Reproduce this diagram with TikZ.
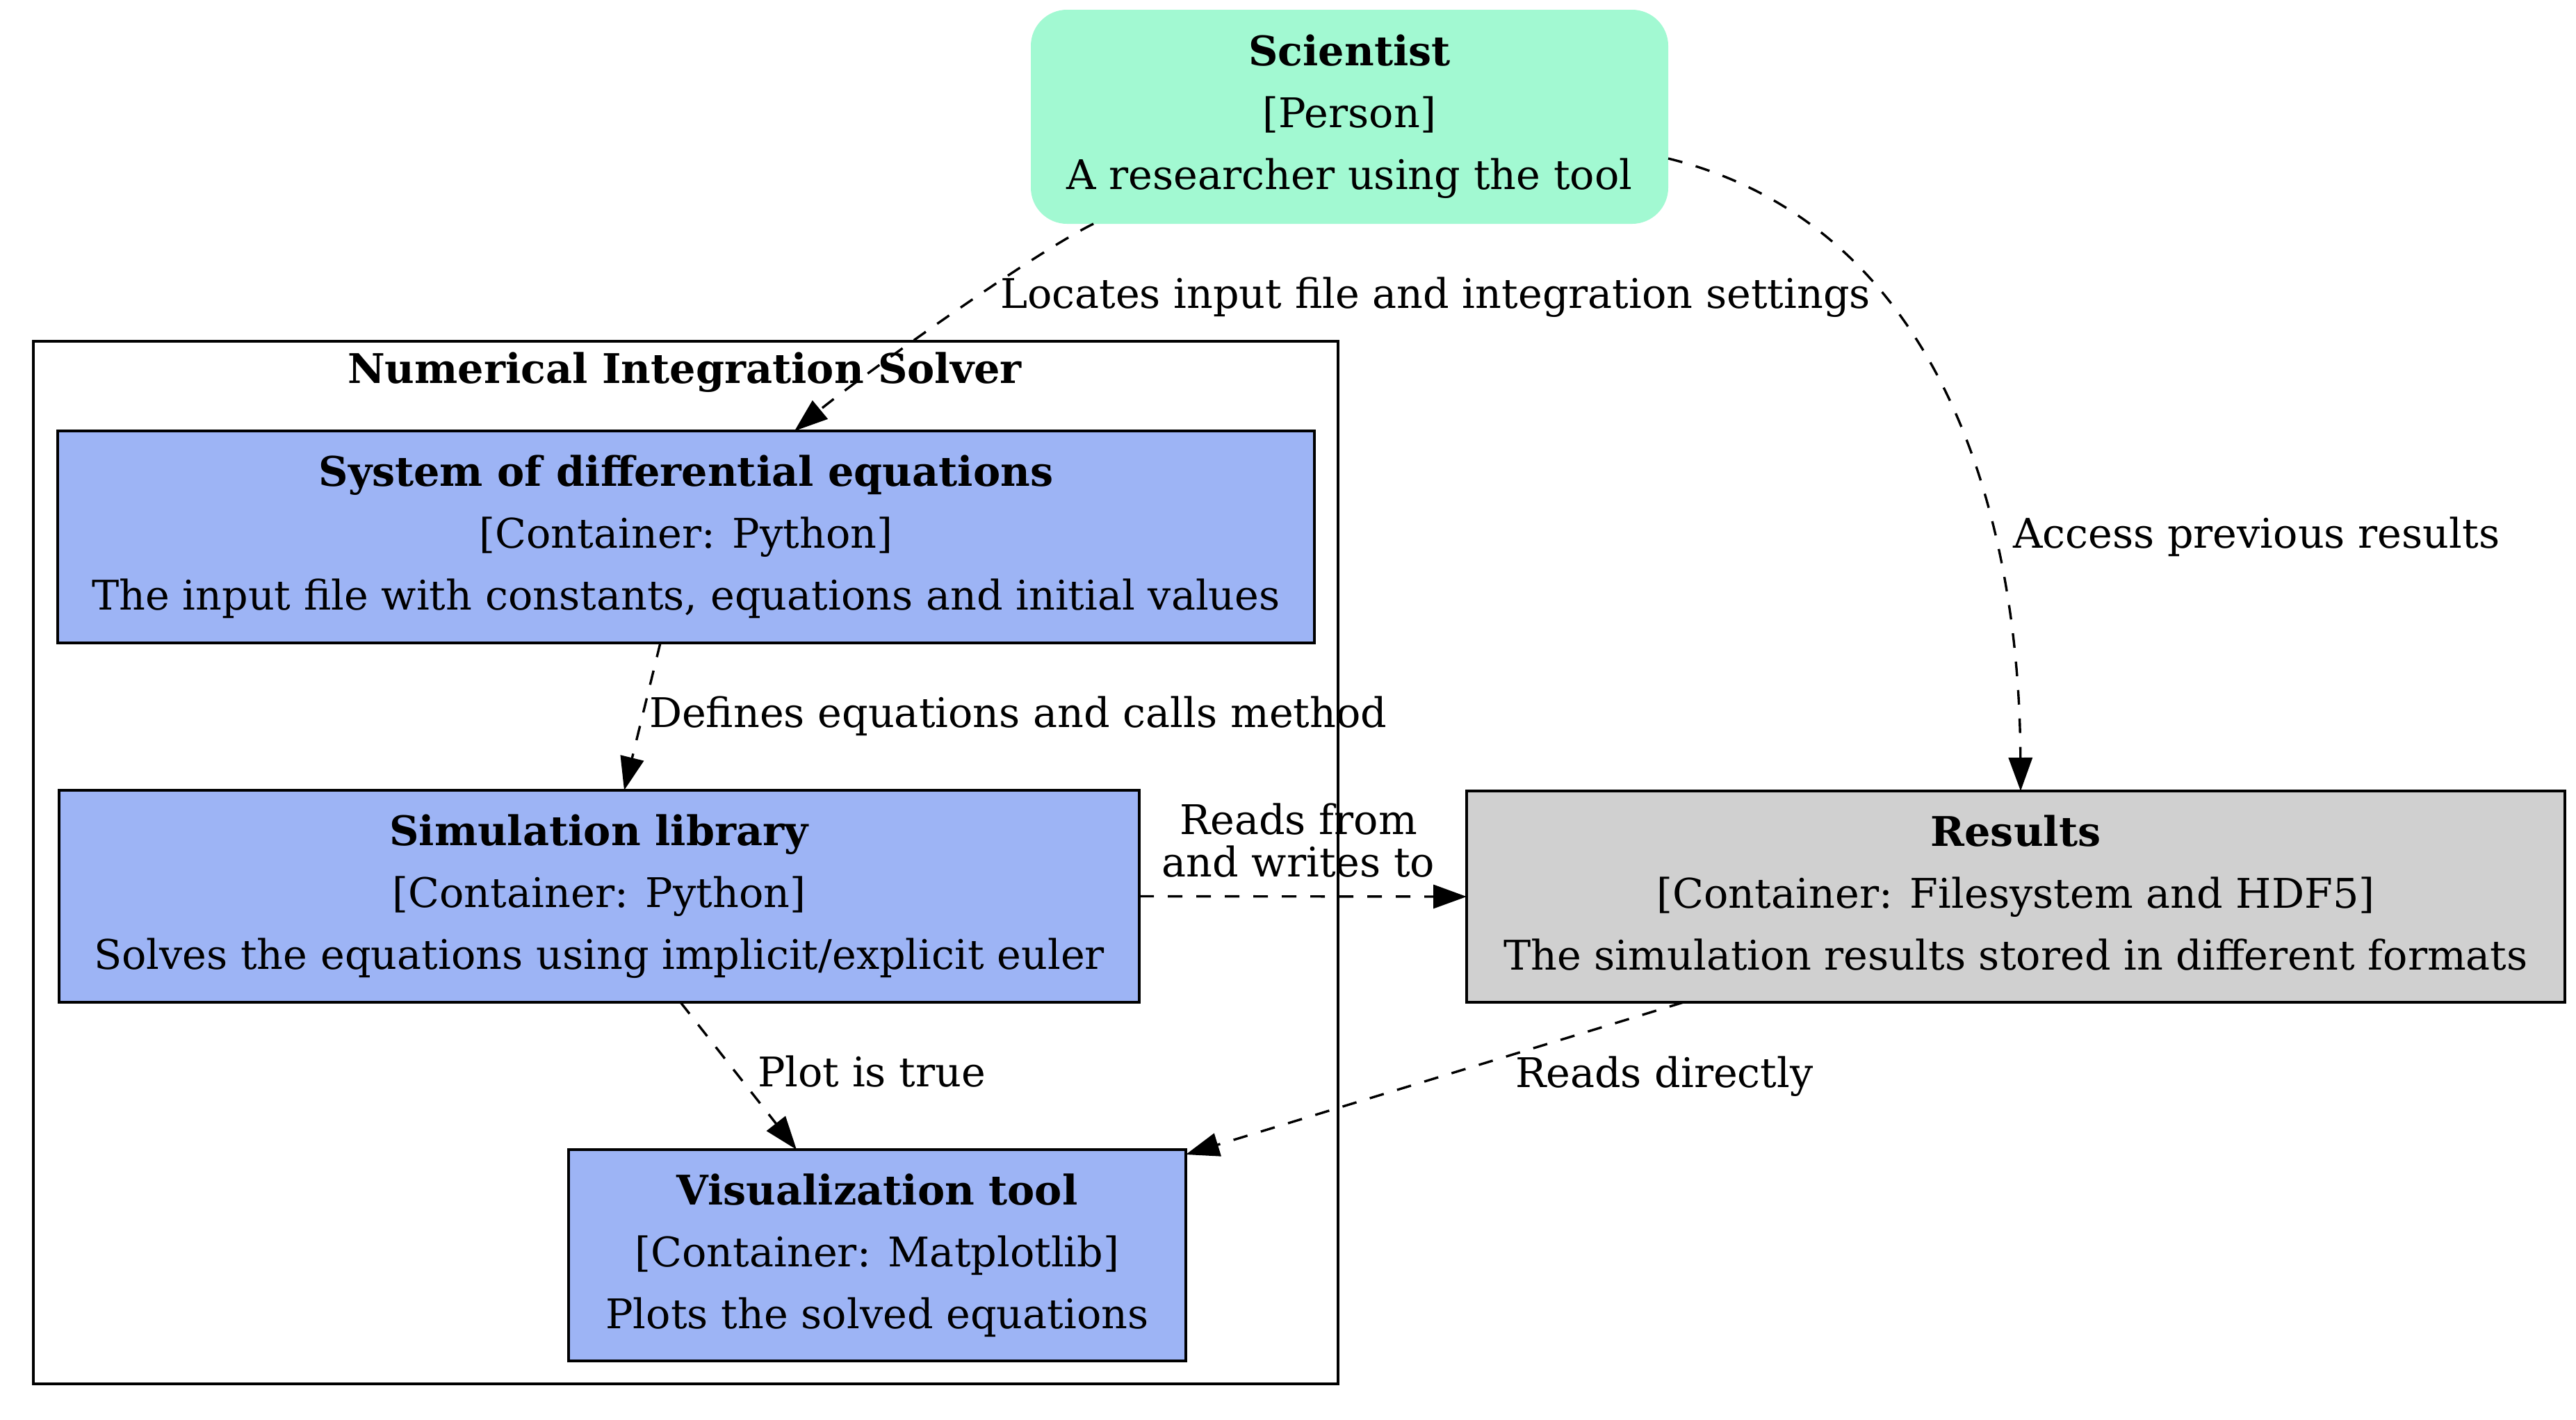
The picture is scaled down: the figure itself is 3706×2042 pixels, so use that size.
\documentclass[tikz,border=0pt]{standalone}
\usepackage{fontspec}
\setmainfont{DejaVu Serif}
\usetikzlibrary{arrows.meta,calc}
\definecolor{personfill}{HTML}{A2F9D2}
\definecolor{contfill}{HTML}{9DB4F5}
\definecolor{resfill}{HTML}{D0D0D0}
\begin{document}
\begin{tikzpicture}[x=0.5pt,y=-0.5pt,
  every node/.style={inner sep=0pt, outer sep=0pt},
  txt/.style={font=\fontsize{29.4}{44.5}\selectfont, align=center},
  box/.style={txt, draw=black, line width=1.6pt},
  contbox/.style={box, fill=contfill},
  lbl/.style={font=\fontsize{29.4}{30.5}\selectfont, align=center},
  conn/.style={draw=black, line width=1.7pt, dash pattern=on 10.5pt off 10pt, -{Triangle[length=24pt,width=17pt]}}
]
\useasboundingbox (0,0) rectangle (3706,2042);
\fill[white] (0,0) rectangle (3706,2042);

% cluster
\node[draw=black, line width=1.6pt, minimum width=938.5pt, minimum height=750pt] (cluster) at (986.5,1241) {};
\node[txt, anchor=base, font=\fontsize{29.4}{30}\selectfont\bfseries] (clusterlabel) at (985,551) {Numerical Integration Solver};

% nodes
\node[txt, fill=personfill, rounded corners=26pt, minimum width=458.5pt, minimum height=154pt] (sci) at (1941.5,168)
  {\textbf{Scientist}\\{}[Person]\\A researcher using the tool};
\node[contbox, minimum width=904pt, minimum height=152.5pt] (sde) at (987,772.5)
  {\textbf{System of differential equations}\\{}[Container: Python]\\The input file with constants, equations and initial values};
\node[contbox, minimum width=777pt, minimum height=152.5pt] (sim) at (862,1289.5)
  {\textbf{Simulation library}\\{}[Container: Python]\\Solves the equations using implicit/explicit euler};
\node[contbox, minimum width=444pt, minimum height=152pt] (vis) at (1262,1806)
  {\textbf{Visualization tool}\\{}[Container: Matplotlib]\\Plots the solved equations};
\node[box, fill=resfill, minimum width=790pt, minimum height=152pt] (res) at (2900,1290)
  {\textbf{Results}\\{}[Container: Filesystem and HDF5]\\The simulation results stored in different formats\vphantom{p}};

% connectors
\draw[conn] ($(sci.south west)+(90,0)$) .. controls (1480,368) and (1230,548) .. ($(sde.north west)+(1060,0)$);
\draw[conn] ($(sci.east)+(0,60)$) .. controls (2780,322) and (2905,720) .. ($(res.north)+(7,0)$);
\draw[conn] ($(sde.south)+(-37,0)$) -- ($(sim.north)+(36,0)$);
\draw[conn] (sim.east) -- (res.west);
\draw[conn] ($(sim.south)+(117,0)$) -- ($(vis.north)+(-116,0)$);
\draw[conn] ($(res.south)+(-478,0)$) -- ($(vis.north east)+(0,7)$);

% labels
\node[lbl, anchor=base west] (l1) at (1439,443) {Locates input file and integration settings};
\node[lbl, anchor=base west] (l2) at (2896,788) {Access previous results};
\node[lbl, anchor=base west] (l3) at (934,1046) {Defines equations and calls method};
\node[lbl, anchor=base] (l4) at (1868,1261) {Reads from\\and writes to};
\node[lbl, anchor=base west] (l5) at (1090,1563) {Plot is true};
\node[lbl, anchor=base west] (l6) at (2180,1564) {Reads directly};
\end{tikzpicture}
\end{document}
